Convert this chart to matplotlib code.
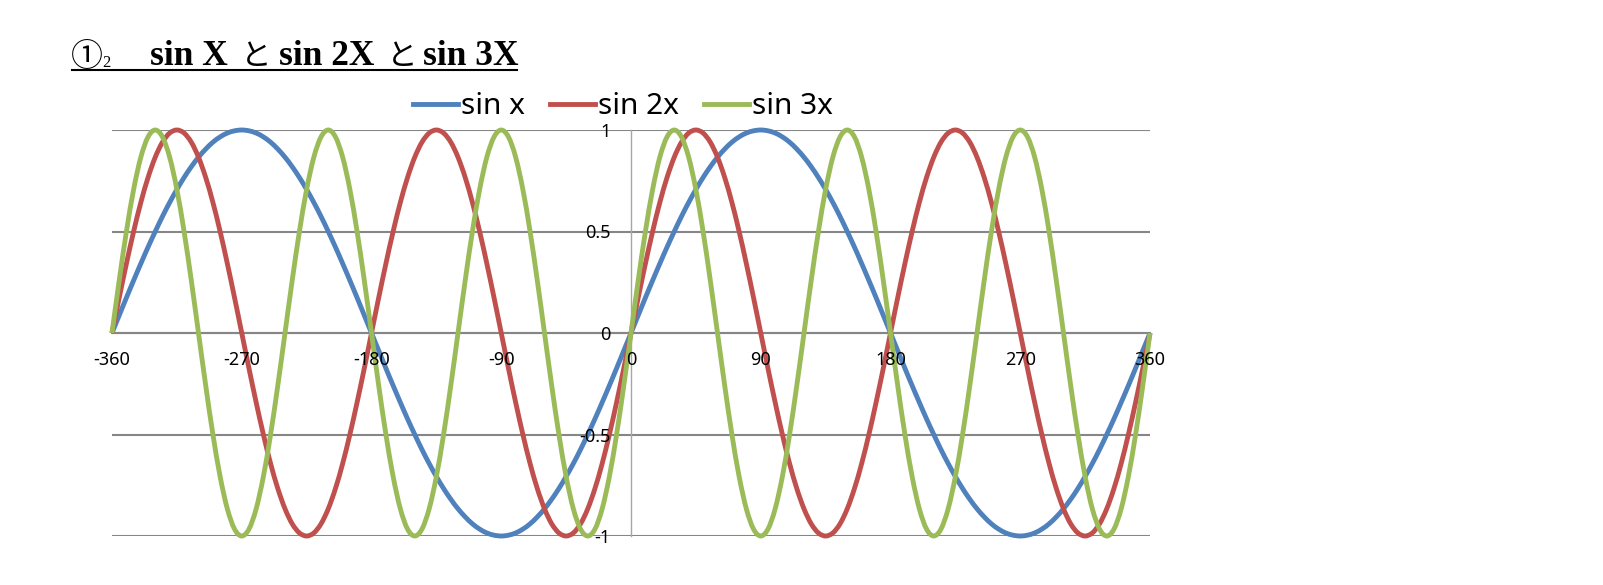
import matplotlib
matplotlib.use('Agg')
import matplotlib.pyplot as plt
import numpy as np
from matplotlib.lines import Line2D
from matplotlib.path import Path
from matplotlib.patches import PathPatch

# ---------------- data ----------------
deg = list(range(-360, 361, 5))

sin_x = [
    0, .087, .174, .259, .342, .423, .5, .574, .643, .707, .766, .819, .866, .906, .94, .966, .985, .996, 1,
    .996, .985, .966, .94, .906, .866, .819, .766, .707, .643, .574, .5, .423, .342, .259, .174, .087,
    0, -.087, -.174, -.259, -.342, -.423, -.5, -.574, -.643, -.707, -.766, -.819, -.866, -.906, -.94, -.966, -.985, -.996, -1,
    -.996, -.985, -.966, -.94, -.906, -.866, -.819, -.766, -.707, -.643, -.574, -.5, -.423, -.342, -.259, -.174, -.087,
    0, .087, .174, .259, .342, .423, .5, .574, .643, .707, .766, .819, .866, .906, .94, .966, .985, .996, 1,
    .996, .985, .966, .94, .906, .866, .819, .766, .707, .643, .574, .5, .423, .342, .259, .174, .087,
    0, -.087, -.174, -.259, -.342, -.423, -.5, -.574, -.643, -.707, -.766, -.819, -.866, -.906, -.94, -.966, -.985, -.996, -1,
    -.996, -.985, -.966, -.94, -.906, -.866, -.819, -.766, -.707, -.643, -.574, -.5, -.423, -.342, -.259, -.174, -.087,
    0,
]

sin_2x = [
    0, .174, .342, .5, .643, .766, .866, .94, .985, 1, .985, .94, .866, .766, .643, .5, .342, .174,
    0, -.174, -.342, -.5, -.643, -.766, -.866, -.94, -.985, -1, -.985, -.94, -.866, -.766, -.643, -.5, -.342, -.174,
    0, .174, .342, .5, .643, .766, .866, .94, .985, 1, .985, .94, .866, .766, .643, .5, .342, .174,
    0, -.174, -.342, -.5, -.643, -.766, -.866, -.94, -.985, -1, -.985, -.94, -.866, -.766, -.643, -.5, -.342, -.174,
    0, .174, .342, .5, .643, .766, .866, .94, .985, 1, .985, .94, .866, .766, .643, .5, .342, .174,
    0, -.174, -.342, -.5, -.643, -.766, -.866, -.94, -.985, -1, -.985, -.94, -.866, -.766, -.643, -.5, -.342, -.174,
    0, .174, .342, .5, .643, .766, .866, .94, .985, 1, .985, .94, .866, .766, .643, .5, .342, .174,
    0, -.174, -.342, -.5, -.643, -.766, -.866, -.94, -.985, -1, -.985, -.94, -.866, -.766, -.643, -.5, -.342, -.174,
    0,
]

sin_3x = [
    0, .259, .5, .707, .866, .966, 1, .966, .866, .707, .5, .259, 0, -.259, -.5, -.707, -.866, -.966, -1, -.966, -.866, -.707, -.5, -.259,
    0, .259, .5, .707, .866, .966, 1, .966, .866, .707, .5, .259, 0, -.259, -.5, -.707, -.866, -.966, -1, -.966, -.866, -.707, -.5, -.259,
    0, .259, .5, .707, .866, .966, 1, .966, .866, .707, .5, .259, 0, -.259, -.5, -.707, -.866, -.966, -1, -.966, -.866, -.707, -.5, -.259,
    0, .259, .5, .707, .866, .966, 1, .966, .866, .707, .5, .259, 0, -.259, -.5, -.707, -.866, -.966, -1, -.966, -.866, -.707, -.5, -.259,
    0, .259, .5, .707, .866, .966, 1, .966, .866, .707, .5, .259, 0, -.259, -.5, -.707, -.866, -.966, -1, -.966, -.866, -.707, -.5, -.259,
    0, .259, .5, .707, .866, .966, 1, .966, .866, .707, .5, .259, 0, -.259, -.5, -.707, -.866, -.966, -1, -.966, -.866, -.707, -.5, -.259,
    0,
]

series_labels = ['sin x', 'sin 2x', 'sin 3x']
series_colors = ['#4F81BD', '#C0504D', '#9BBB59']

x_ticks = [-360, -270, -180, -90, 0, 90, 180, 270, 360]
x_tick_labels = ['-360', '-270', '-180', '-90', '0', '90', '180', '270', '360']
y_ticks = [-1, -0.5, 0, 0.5, 1]
y_tick_labels = ['-1', '-0.5', '0', '0.5', '1']

title_mark = '①'
title_sub = '2'
title_parts = ['sin X', 'と', 'sin 2X', 'と', 'sin 3X']


def smooth_path(xs, ys):
    """Excel-style smoothed line: Catmull-Rom segments as cubic Bezier curves."""
    p = np.column_stack([np.asarray(xs, float), np.asarray(ys, float)])
    n = len(p)
    verts = [p[0]]
    codes = [Path.MOVETO]
    for i in range(n - 1):
        p0 = p[i - 1] if i > 0 else p[i]
        p1 = p[i]
        p2 = p[i + 1]
        p3 = p[i + 2] if i + 2 < n else p[i + 1]
        c1 = p1 + (p2 - p0) / 6.0
        c2 = p2 - (p3 - p1) / 6.0
        verts += [c1, c2, p2]
        codes += [Path.CURVE4] * 3
    return Path(verts, codes)


# ---------------- figure ----------------
W, H = 1603, 585
fig = plt.figure(figsize=(W / 100, H / 100), dpi=100)
fig.patch.set_facecolor('white')

ax = fig.add_axes([112 / W, 49 / H, 1038 / W, 406 / H])

# horizontal gridlines under the curves
for yv in y_ticks:
    ax.axhline(yv, color='#868686', lw=1.5, zorder=0.5)

LW = 3.5
handles = []
for vals, col, lab in zip([sin_x, sin_2x, sin_3x], series_colors, series_labels):
    patch = PathPatch(smooth_path(deg, vals), facecolor='none', edgecolor=col, lw=LW,
                      capstyle='butt', joinstyle='round', transform=ax.transData,
                      clip_on=False, zorder=3)
    ax.add_patch(patch)
    handles.append(Line2D([], [], color=col, lw=LW, label=lab))

ax.set_xlim(-360, 360)
ax.set_ylim(-1, 1)
ax.set_xticks(x_ticks)
ax.set_xticklabels(x_tick_labels)
ax.set_yticks(y_ticks)
ax.set_yticklabels(y_tick_labels)
ax.set_xticks([-360], minor=True)

for s in ['top', 'right']:
    ax.spines[s].set_visible(False)
ax.spines['left'].set_position(('data', 0))
ax.spines['bottom'].set_position(('data', 0))
ax.spines['left'].set_color('#A6A6A6')
ax.spines['left'].set_linewidth(1.0)
ax.spines['bottom'].set_color('#868686')
ax.spines['bottom'].set_linewidth(1.5)
ax.spines['left'].set_zorder(1)
ax.spines['bottom'].set_zorder(1)

# tick labels drawn above the curves
ax.xaxis.set_zorder(4)
ax.yaxis.set_zorder(4)

ax.tick_params(axis='both', which='major', length=0, labelsize=13, labelcolor='black')
ax.tick_params(axis='y', which='major', pad=15)
ax.tick_params(axis='x', which='major', pad=13)
ax.tick_params(axis='x', which='minor', length=5, width=1.5, color='#868686', direction='out')
for lbl in ax.get_xticklabels() + ax.get_yticklabels():
    lbl.set_fontfamily('Noto Sans')

leg = ax.legend(handles=handles, loc='center', bbox_to_anchor=(623 / W, (H - 107) / H),
                bbox_transform=fig.transFigure, ncol=3, frameon=False,
                prop={'family': 'Noto Sans', 'size': 21.5},
                handlelength=1.5, handletextpad=0.1, columnspacing=0.85,
                borderaxespad=0, borderpad=0)

# ---------------- title ----------------
fig.text(71 / W, (H - 66) / H, title_mark, family=['Noto Sans CJK JP', 'DejaVu Sans'],
         fontsize=23, va='baseline', ha='left')
fig.text(102 / W, (H - 67) / H, title_sub, family=['Liberation Serif'],
         fontsize=12, va='baseline', ha='left')
part_x = [150, 241, 279, 387, 423]
for txt, px in zip(title_parts, part_x):
    if txt == 'と':
        fig.text(px / W, (H - 65) / H, txt, family=['Noto Sans CJK JP'],
                 fontsize=22, fontweight='normal', va='baseline', ha='left')
    else:
        fig.text(px / W, (H - 65) / H, txt, family=['Liberation Serif'],
                 fontsize=25.5, fontweight='bold', va='baseline', ha='left')
fig.add_artist(Line2D([72 / W, 517 / W], [(H - 70) / H, (H - 70) / H],
                      transform=fig.transFigure, color='black', lw=1.5))

fig.savefig('out.png', dpi=100, facecolor='white')
